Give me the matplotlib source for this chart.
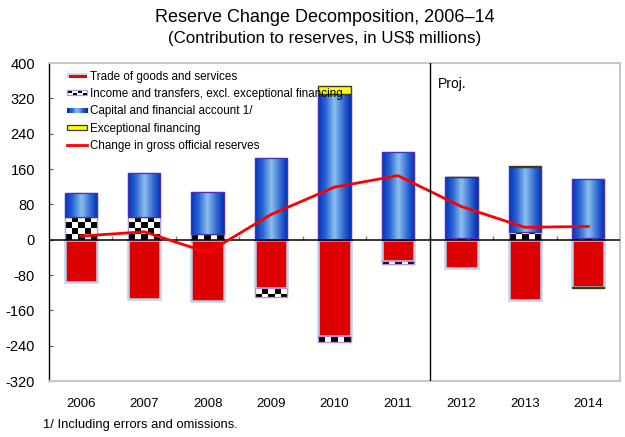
import numpy as np
import matplotlib.pyplot as plt
from matplotlib.patches import Rectangle
from matplotlib.lines import Line2D
from matplotlib.legend_handler import HandlerBase
from matplotlib.colors import LinearSegmentedColormap

plt.rcParams['font.family'] = ['Liberation Sans', 'DejaVu Sans']

# Reserve change components, US$ millions
years = ['2006', '2007', '2008', '2009', '2010', '2011', '2012', '2013', '2014']
trade = [-96, -134, -139, -110, -219, -48, -64, -136, -107]
income = [52, 52, 13, -20, -12, -7, 4, 17, 4]
capital = [54, 99, 96, 184, 329, 198, 138, 147, 134]
exceptional = [0, 0, 0, 0, 20, 0, 1, 2, -2]
reserves = [8, 18, -29, 57, 119, 145, 75, 28, 30]

yticks = np.arange(-320, 401, 80)
labels = ['Trade of goods and services',
          'Income and transfers, excl. exceptional financing',
          'Capital and financial account 1/',
          'Exceptional financing',
          'Change in gross official reserves']

x = np.arange(len(years))
width = 0.51

blue_grad = LinearSegmentedColormap.from_list(
    'cyl', ['#0034C0', '#2F6AD4', '#8CC0EC', '#3A72D6', '#0030B4'])
grad = np.linspace(0, 1, 64).reshape(1, -1)

fig = plt.figure(figsize=(6.25, 4.37), dpi=100)
ax = fig.add_axes([0.0784, 0.1281, 0.9136, 0.7277])

pos_base = np.zeros(len(x))
neg_base = np.zeros(len(x))


def stack(vals):
    vals = np.asarray(vals, dtype=float)
    base = np.where(vals >= 0, pos_base, neg_base)
    pos_base[:] += np.where(vals > 0, vals, 0)
    neg_base[:] += np.where(vals < 0, vals, 0)
    return vals, base


# trade balance (red, light blue glow)
v, b = stack(trade)
ax.bar(x, v, width, bottom=b, color='#DD0000', edgecolor='#BCD2EE', lw=1.8, zorder=2)

# income and transfers, checkered fill
v, b = stack(income)
inc_bars = ax.bar(x, v, width, bottom=b, color='white', edgecolor='#B890E0', lw=0.9, zorder=3)
cw, ch = width / 5, 13.6
for xi, vi, bi, patch in zip(x, v, b, inc_bars):
    if vi == 0:
        continue
    nrow = int(np.ceil(abs(vi) / ch))
    board = (np.indices((nrow, 5)).sum(axis=0) % 2).astype(float)
    if vi > 0:
        ext = (xi - width / 2, xi + width / 2, bi, bi + nrow * ch)
    else:
        ext = (xi - width / 2, xi + width / 2, bi - nrow * ch, bi)
    im = ax.imshow(board, cmap='gray', extent=ext, aspect='auto',
                   interpolation='nearest', origin='lower', zorder=3)
    im.set_clip_path(patch)
    ax.add_patch(Rectangle((xi - width / 2, bi), width, vi, fill=False,
                           edgecolor='#B890E0', lw=0.9, zorder=3))

# capital and financial account, shaded cylinder look
v, b = stack(capital)
cap_bars = ax.bar(x, v, width, bottom=b, color='#1A4FCC', edgecolor='#4A32B8', lw=0.9, zorder=3)
for xi, vi, bi, patch in zip(x, v, b, cap_bars):
    im = ax.imshow(grad, cmap=blue_grad, extent=(xi - width / 2, xi + width / 2, bi, bi + vi),
                   aspect='auto', interpolation='bilinear', zorder=3)
    im.set_clip_path(patch)
    ax.add_patch(Rectangle((xi - width / 2, bi), width, vi, fill=False,
                           edgecolor='#4A32B8', lw=0.9, zorder=4))

# exceptional financing, only where there is any
v, b = stack(exceptional)
nz = v != 0
ax.bar(x[nz], v[nz], width, bottom=b[nz], color='#FFFF00', edgecolor='#3A3A1A', lw=1.0, zorder=4)

# change in reserves
ax.plot(x, reserves, color='#FF0000', lw=2, zorder=5)

ax.axhline(0, color='black', lw=1.1, zorder=4)
ax.vlines(np.arange(0.5, len(x) - 0.5), 0, 9, color='#808080', lw=1, zorder=1)
ax.axvline(5.5, color='black', lw=1, zorder=5)
ax.text(5.63, 352, 'Proj.', fontsize=10, va='center', ha='left')

ax.set_xlim(-0.5, len(x) - 0.5)
ax.set_ylim(-320, 400)
ax.set_yticks(yticks)
ax.set_yticklabels([str(t) for t in yticks])
ax.tick_params(axis='y', direction='in', length=3, pad=10, labelsize=10.5, color='#555555')
ax.set_xticks(x)
ax.set_xticklabels(years)
ax.tick_params(axis='x', length=0, pad=12, labelsize=9.5)

for side in ['top', 'right', 'bottom']:
    ax.spines[side].set_color('#C8C8C8')
    ax.spines[side].set_linewidth(1.5)
ax.spines['left'].set_color('black')
ax.spines['left'].set_linewidth(1)


# legend handles
class TradeHandler(HandlerBase):
    def create_artists(self, legend, orig, xd, yd, w, h, fs, trans):
        r = Rectangle((-xd, -yd + h * 0.2), w, h * 0.6, facecolor='#C8DAF2',
                      edgecolor='none', transform=trans)
        ln = Line2D([-xd + 2, -xd + w - 2], [-yd + h / 2] * 2, color='#EE0000',
                    lw=2.2, transform=trans)
        return [r, ln]


class CheckHandler(HandlerBase):
    def create_artists(self, legend, orig, xd, yd, w, h, fs, trans):
        arts = [Rectangle((-xd, -yd + h * 0.2), w, h * 0.6, facecolor='white',
                          edgecolor='#B890E0', lw=0.9, transform=trans)]
        for k in range(4):
            arts.append(Rectangle((-xd + w * (0.05 + 0.25 * k), -yd + h * (0.3 if k % 2 else 0.5)),
                                  w * 0.2, h * 0.2, facecolor='black', edgecolor='none',
                                  transform=trans))
        return arts


class GradHandler(HandlerBase):
    def create_artists(self, legend, orig, xd, yd, w, h, fs, trans):
        arts = []
        n = 12
        for k in range(n):
            arts.append(Rectangle((-xd + w * k / n, -yd + h * 0.2), w / n + 0.3, h * 0.6,
                                  facecolor=blue_grad(k / (n - 1)), edgecolor='none',
                                  transform=trans))
        return arts


class BoxHandler(HandlerBase):
    def create_artists(self, legend, orig, xd, yd, w, h, fs, trans):
        return [Rectangle((-xd, -yd + h * 0.2), w, h * 0.6, facecolor='#FFFF00',
                          edgecolor='#3A3A1A', lw=0.9, transform=trans)]


keys = [object(), object(), object(), object()]
line_key = Line2D([], [], color='#FF0000', lw=2)
ax.legend(keys + [line_key], labels,
          handler_map={keys[0]: TradeHandler(), keys[1]: CheckHandler(),
                       keys[2]: GradHandler(), keys[3]: BoxHandler()},
          loc='upper left', bbox_to_anchor=(0.015, 1.005), frameon=False,
          fontsize=8.4, handlelength=1.75, handleheight=0.7, handletextpad=0.2,
          labelspacing=0.45, borderpad=0.3)

fig.text(0.52, 0.961, 'Reserve Change Decomposition, 2006\u201314', ha='center', va='center', fontsize=13)
fig.text(0.52, 0.911, '(Contribution to reserves, in US$ millions)', ha='center', va='center', fontsize=12.2)
fig.text(0.069, 0.027, '1/ Including errors and omissions.', ha='left', va='center', fontsize=9.4)

fig.savefig('out.png', dpi=100)
